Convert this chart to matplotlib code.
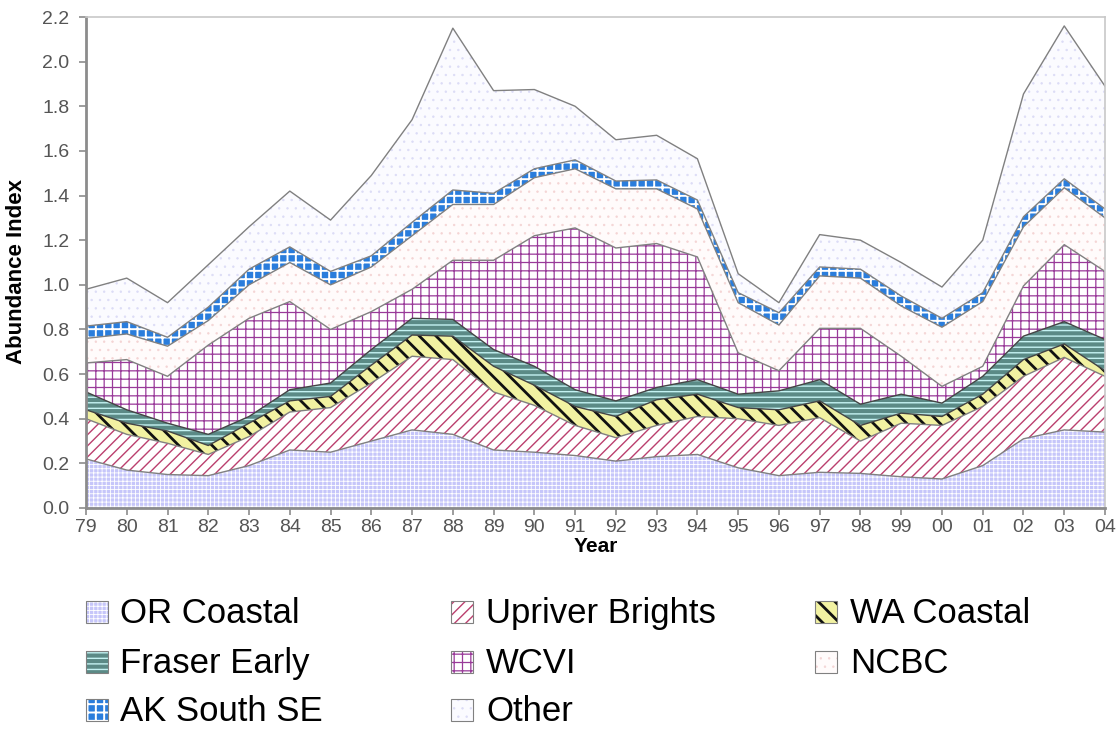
import numpy as np
import matplotlib
matplotlib.use("Agg")
import matplotlib.pyplot as plt
from matplotlib.patches import Rectangle

########## data ##########
years = ['79', '80', '81', '82', '83', '84', '85', '86', '87', '88', '89', '90', '91',
         '92', '93', '94', '95', '96', '97', '98', '99', '00', '01', '02', '03', '04']

or_coastal = [0.22, 0.17, 0.15, 0.145, 0.19, 0.26, 0.25, 0.30, 0.35, 0.33, 0.26, 0.25, 0.235,
              0.21, 0.23, 0.24, 0.18, 0.145, 0.16, 0.155, 0.14, 0.13, 0.19, 0.31, 0.35, 0.34]
upriver_brights = [0.18, 0.16, 0.14, 0.095, 0.13, 0.17, 0.20, 0.26, 0.33, 0.335, 0.26, 0.21, 0.135,
                   0.105, 0.14, 0.17, 0.22, 0.225, 0.245, 0.145, 0.24, 0.24, 0.265, 0.28, 0.325, 0.25]
wa_coastal = [0.04, 0.05, 0.055, 0.04, 0.06, 0.05, 0.05, 0.08, 0.095, 0.105, 0.115, 0.09, 0.085,
              0.095, 0.115, 0.10, 0.05, 0.07, 0.075, 0.07, 0.045, 0.04, 0.055, 0.075, 0.06, 0.025]
fraser_early = [0.08, 0.06, 0.035, 0.05, 0.03, 0.05, 0.06, 0.07, 0.075, 0.075, 0.075, 0.085, 0.075,
                0.07, 0.055, 0.065, 0.06, 0.085, 0.095, 0.095, 0.085, 0.06, 0.08, 0.105, 0.10, 0.14]
wcvi = [0.13, 0.225, 0.21, 0.40, 0.44, 0.395, 0.24, 0.17, 0.13, 0.265, 0.40, 0.585, 0.725,
        0.685, 0.645, 0.55, 0.185, 0.09, 0.23, 0.34, 0.17, 0.075, 0.045, 0.225, 0.345, 0.305]
ncbc = [0.11, 0.115, 0.135, 0.11, 0.15, 0.175, 0.20, 0.20, 0.24, 0.25, 0.25, 0.26, 0.265,
        0.265, 0.245, 0.215, 0.225, 0.205, 0.235, 0.225, 0.225, 0.265, 0.29, 0.265, 0.255, 0.24]
ak_south_se = [0.055, 0.055, 0.04, 0.06, 0.07, 0.07, 0.06, 0.05, 0.06, 0.065, 0.05, 0.04, 0.04,
               0.035, 0.04, 0.04, 0.045, 0.055, 0.04, 0.04, 0.045, 0.04, 0.04, 0.045, 0.04, 0.04]
other = [0.165, 0.195, 0.155, 0.19, 0.19, 0.25, 0.23, 0.36, 0.46, 0.725, 0.46, 0.355, 0.24,
         0.185, 0.20, 0.185, 0.085, 0.045, 0.145, 0.13, 0.15, 0.14, 0.235, 0.55, 0.685, 0.55]

labels = ['OR Coastal', 'Upriver Brights', 'WA Coastal', 'Fraser Early',
          'WCVI', 'NCBC', 'AK South SE', 'Other']

# face colour, hatch, hatch colour, hatch linewidth
styles = [
    ('#c6c6fa', '++++', '#ffffff', 0.6),
    ('#ffffff', '///', '#bb3f6e', 1.0),
    ('#f2f2a2', '\\\\', '#111111', 2.0),
    ('#5b8a86', '---', '#c4f2f2', 1.0),
    ('#ffffff', '++', '#993a99', 0.9),
    ('#fffbfb', '..', '#f4d4d4', 0.5),
    ('#2a7ddc', '++', '#ffffff', 1.4),
    ('#fbfbff', '..', '#dcdcf6', 0.5),
]

plt.rcParams['font.family'] = ['Liberation Sans', 'DejaVu Sans']

W, H = 1120, 731
fig = plt.figure(figsize=(W / 100, H / 100), dpi=100)
ax = fig.add_axes([86 / W, 1 - 508 / H, (1105 - 86) / W, (508 - 17) / H])

x = np.arange(len(years))
layers = [or_coastal, upriver_brights, wa_coastal, fraser_early, wcvi, ncbc, ak_south_se, other]
tops = np.cumsum(np.array(layers), axis=0)
bottom = np.zeros(len(years))

for top, (face, hatch, hcol, hlw) in zip(tops, styles):
    with plt.rc_context({'hatch.linewidth': hlw}):
        coll = ax.fill_between(x, bottom, top, facecolor=face, edgecolor=hcol,
                               hatch=hatch, linewidth=0)
    if hasattr(coll, 'set_hatch_linewidth'):
        coll.set_hatch_linewidth(hlw)
    bottom = top

for i, top in enumerate(tops):
    col = '#444444' if i in (2, 3) else '#808080'
    ax.plot(x, top, color=col, lw=1.0)

ax.set_xlim(0, len(years) - 1)
ax.set_ylim(0, 2.2)
ax.set_xticks(x)
ax.set_xticklabels(years)
ax.set_yticks(np.arange(0, 2.21, 0.2))
ax.set_yticklabels(['%.1f' % v for v in np.arange(0, 2.21, 0.2)])
ax.tick_params(axis='both', colors='#8c8c8c', labelcolor='#555555', labelsize=14,
               direction='out', length=5, width=1.2)
ax.tick_params(axis='x', pad=3)
ax.tick_params(axis='y', pad=7)

for side in ('left', 'bottom'):
    ax.spines[side].set_color('#8c8c8c')
    ax.spines[side].set_linewidth(2)
for side in ('top', 'right'):
    ax.spines[side].set_color('#c8c8c8')
    ax.spines[side].set_linewidth(1.2)

fig.text(16.5 / W, 1 - 272 / H, 'Abundance Index', rotation=90, ha='center', va='center',
         fontsize=16, fontweight='bold')
fig.text(596 / W, 1 - 546 / H, 'Year', ha='center', va='center',
         fontsize=15, fontweight='bold')

######## legend drawn by hand, three columns ########
patch_x = [86, 451, 815]
text_x = [120, 486, 850]
base_y = [623, 673, 721]
box = 22
for k, (name, (face, hatch, hcol, hlw)) in enumerate(zip(labels, styles)):
    px = patch_x[k % 3]
    by = base_y[k // 3]
    with plt.rc_context({'hatch.linewidth': hlw}):
        rect = Rectangle((px / W, 1 - by / H), box / W, box / H,
                         transform=fig.transFigure, facecolor=face, edgecolor=hcol,
                         hatch=hatch, linewidth=0)
    if hasattr(rect, 'set_hatch_linewidth'):
        rect.set_hatch_linewidth(hlw)
    fig.add_artist(rect)
    fig.add_artist(Rectangle((px / W, 1 - by / H), box / W, box / H,
                             transform=fig.transFigure, facecolor='none',
                             edgecolor='#808080', linewidth=0.8))
    fig.text(text_x[k % 3] / W, 1 - by / H, name, ha='left', va='baseline', fontsize=25)

fig.savefig('out.png', dpi=100)
